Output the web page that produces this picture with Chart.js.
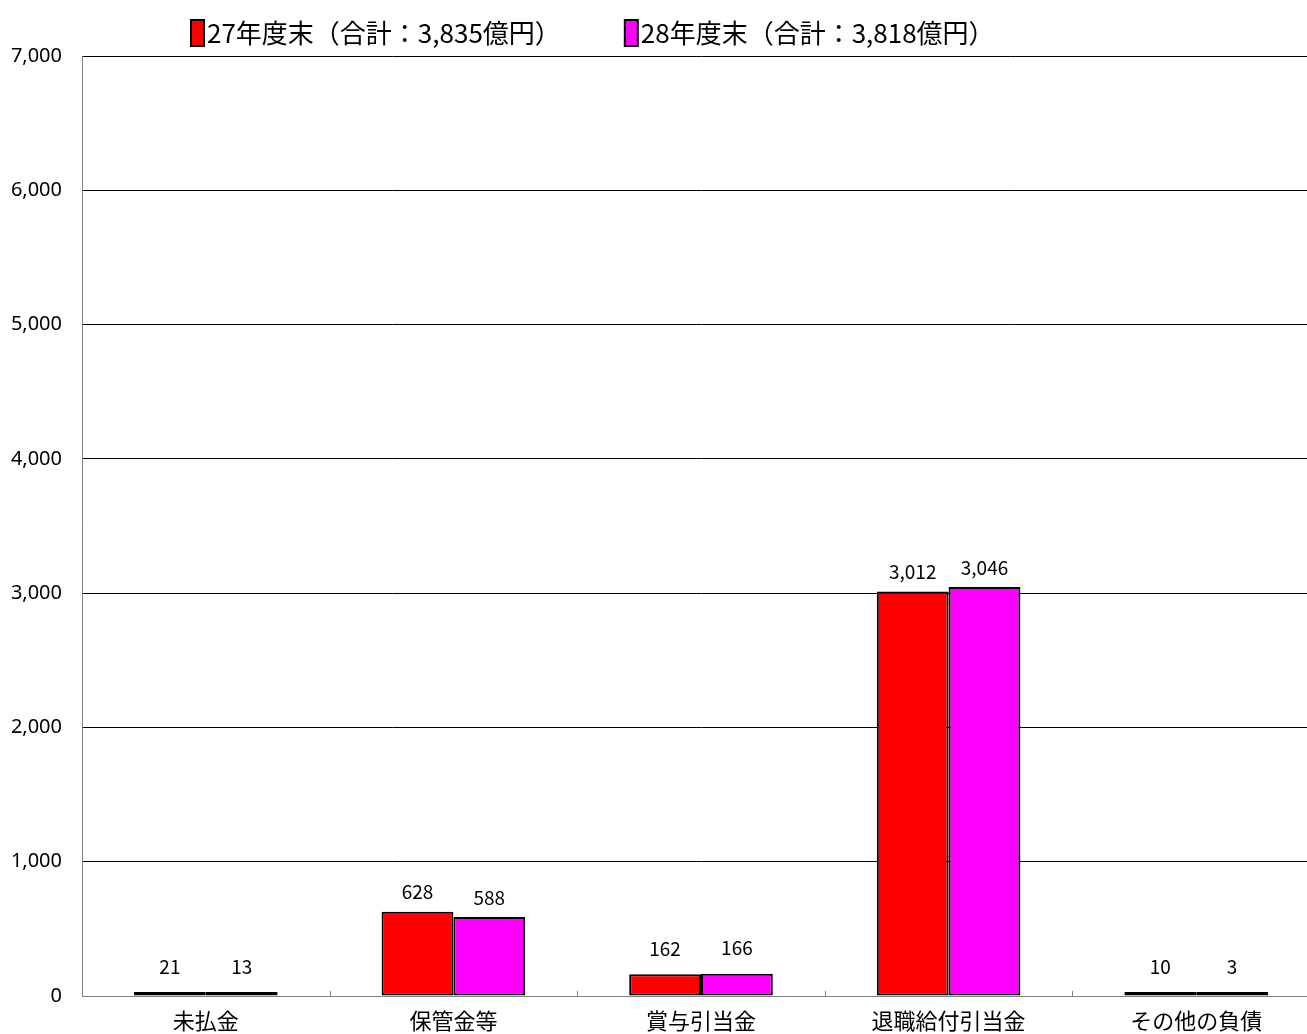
<!DOCTYPE html>
<html>
<head>
<meta charset="utf-8">
<script src="https://cdn.jsdelivr.net/npm/chart.js@4"></script>
<style>
  body { margin: 0; background: #fff; overflow: hidden; }
  #wrap { width: 1320px; height: 1034px; }
</style>
</head>
<body>
<div id="wrap"><canvas id="chart"></canvas></div>
<script>
let categories = ['未払金', '保管金等', '賞与引当金', '退職給付引当金', 'その他の負債']
let values27 = [21, 628, 162, 3012, 10]
let values28 = [13, 588, 166, 3046, 3]
let seriesNames = ['27年度末（合計：3,835億円）', '28年度末（合計：3,818億円）']
let yTicks = [0, 1000, 2000, 3000, 4000, 5000, 6000, 7000]

let jp = '"Noto Sans CJK JP", sans-serif'

// value labels above bars
let barLabels = {
    id: 'barLabels',
    afterDatasetsDraw(chart) {
        let c = chart.ctx
        c.save()
        c.font = '19px ' + jp
        c.fillStyle = '#000'
        c.textAlign = 'center'
        c.textBaseline = 'bottom'
        chart.data.datasets.forEach((ds, i) => {
            chart.getDatasetMeta(i).data.forEach((bar, j) => {
                let gap = ds.data[j] < 300 ? 16 : 10
                c.fillText(ds.data[j].toLocaleString('en-US'), bar.x, bar.y - gap)
            })
        })
        c.restore()
    }
}

// small tick marks between categories, pointing up
let catTicks = {
    id: 'catTicks',
    afterDraw(chart) {
        let x = chart.scales.x
        let c = chart.ctx
        let y0 = chart.chartArea.bottom
        c.save()
        c.strokeStyle = '#808080'
        c.lineWidth = 1
        for (let i = 0; i < categories.length - 1; i++) {
            let px = Math.round((x.getPixelForValue(i) + x.getPixelForValue(i + 1)) / 2) + 0.5
            c.beginPath()
            c.moveTo(px, y0)
            c.lineTo(px, y0 - 5)
            c.stroke()
        }
        c.restore()
    }
}

// legend drawn by hand
let topLegend = {
    id: 'topLegend',
    afterDraw(chart) {
        let c = chart.ctx
        c.save()
        c.font = '26px ' + jp
        c.textBaseline = 'middle'
        let x = 191
        chart.data.datasets.forEach(ds => {
            c.fillStyle = ds.backgroundColor
            c.fillRect(x, 20, 13, 26)
            c.strokeStyle = '#000'
            c.lineWidth = 2
            c.strokeRect(x, 20, 13, 26)
            c.fillStyle = '#000'
            c.fillText(ds.label, x + 16, 33)
            x += 16 + c.measureText(ds.label).width + 64
        })
        c.restore()
    }
}

let ctx = document.querySelector('#chart')

let chart = new Chart(ctx, {
    type: 'bar',
    data: {
        labels: categories,
        datasets: [{
            label: seriesNames[0],
            data: values27,
            backgroundColor: '#FF0000',
            borderColor: '#000',
            borderWidth: 2,
            borderSkipped: false,
            minBarLength: 4
        }, {
            label: seriesNames[1],
            data: values28,
            backgroundColor: '#FF00FF',
            borderColor: '#000',
            borderWidth: 2,
            borderSkipped: false,
            minBarLength: 4
        }]
    },
    options: {
        responsive: true,
        maintainAspectRatio: false,
        animation: false,
        layout: { padding: { top: 56, right: 0, left: 0, bottom: 0 } },
        datasets: { bar: { categoryPercentage: 0.58, barPercentage: 1.0 } },
        plugins: {
            legend: { display: false },
            tooltip: { enabled: false }
        },
        scales: {
            x: {
                grid: { display: false },
                border: { color: '#808080', width: 1 },
                ticks: {
                    color: '#000',
                    padding: 3,
                    font: { family: jp, size: 22 }
                },
                afterFit(s) { s.height = 38 }
            },
            y: {
                min: 0,
                max: 7000,
                afterBuildTicks(s) { s.ticks = yTicks.map(v => ({ value: v })) },
                grid: {
                    color: c => c.tick && c.tick.value === 0 ? '#808080' : '#000',
                    drawTicks: false
                },
                border: { color: '#808080', width: 1 },
                ticks: {
                    color: '#000',
                    padding: 20,
                    font: { family: '"Noto Sans", sans-serif', size: 20 },
                    callback: v => v.toLocaleString('en-US')
                },
                afterFit(s) { s.width = 82 }
            }
        }
    },
    plugins: [barLabels, catTicks, topLegend]
})
</script>
</body>
</html>
